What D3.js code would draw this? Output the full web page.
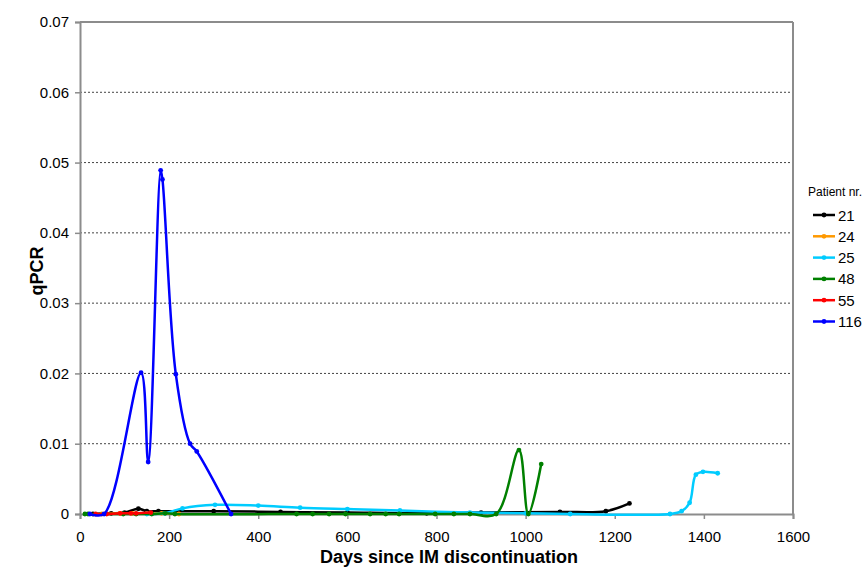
<!DOCTYPE html>
<html>
<head>
<meta charset="utf-8">
<script src="https://cdn.jsdelivr.net/npm/d3@7"></script>
<style>
  body { margin: 0; background: #fff; }
  text { font-family: "Liberation Sans", Arial, sans-serif; }
</style>
</head>
<body>
<div id="chart"></div>
<script>
// days since discontinuation, qPCR value
const patients = ["21", "24", "25", "48", "55", "116"];
const colors = ["#000000", "#ff9900", "#00ccff", "#008000", "#ff0000", "#0000ff"];

const p21 = [[29,0],[70,0.0001],[100,0.0002],[131,0.00075],[150,0.0004],[176,0.0004],[300,0.0004],
             [450,0.0003],[600,0.0002],[778,0.0001],[900,0.0002],[1077,0.0003],[1180,0.0004],[1233,0.0015]];
const p24 = [[49,0],[90,0.0001],[118,0.0001],[150,0.0001],[183,0.0001],[222,0]];
const p25 = [[150,0],[190,0.0001],[230,0.0008],[303,0.0013],[400,0.0012],[494,0.0009],[600,0.0007],
             [718,0.0005],[875,0.0002],[1000,0.0001],[1100,0],[1324,0],[1350,0.0004],[1368,0.0016],
             [1382,0.0056],[1398,0.006],[1431,0.0058]];
const p48 = [[11,0],[18,0],[97,0],[126,0],[161,0],[191,0.0001],[213,0],[486,0],[522,0],[559,0],[596,0],
             [651,0],[686,0],[716,0],[797,0],[839,0],[875,0],[934,0],[985,0.0091],[1006,0],[1035,0.0071]];
const p55 = [[35,0],[60,0],[90,0.0001],[114,0.0001],[126,0.0001],[159,0.0002]];
const p116 = [[22,0],[54,0],[137,0.0201],[153,0.0074],[181,0.0489],[185,0.0476],[215,0.0199],
              [247,0.0100],[262,0.0089],[339,0]];

const xTicks = [0, 200, 400, 600, 800, 1000, 1200, 1400, 1600];
const yTicks = [0, 0.01, 0.02, 0.03, 0.04, 0.05, 0.06, 0.07];

const series = [p21, p24, p25, p48, p55, p116];

const margin = {top: 22, right: 72, bottom: 54, left: 80},
      width = 865 - margin.left - margin.right,
      height = 568 - margin.top - margin.bottom;

const svg = d3.select("#chart")
    .append("svg")
    .attr("width", 865)
    .attr("height", 568);

const g = svg.append("g")
    .attr("transform", `translate(${margin.left},${margin.top})`);

const x = d3.scaleLinear().domain([0, 1600]).range([0, width]);
const y = d3.scaleLinear().domain([0, 0.07]).range([height, 0]);

// dotted gridlines
g.selectAll(".grid")
    .data(yTicks.filter(d => d > 0 && d < 0.07))
    .join("line")
    .attr("x1", 0).attr("x2", width)
    .attr("y1", d => y(d)).attr("y2", d => y(d))
    .attr("stroke", "#444")
    .attr("stroke-width", 1)
    .attr("stroke-dasharray", "2,2");

// frame top and right
g.append("line").attr("x1", 0).attr("x2", width).attr("y1", 0).attr("y2", 0)
    .attr("stroke", "#8c8c8c").attr("stroke-width", 2);
g.append("line").attr("x1", width).attr("x2", width).attr("y1", 0).attr("y2", height)
    .attr("stroke", "#8c8c8c").attr("stroke-width", 2);

const yAxis = g.append("g")
    .call(d3.axisLeft(y).tickValues(yTicks).tickSize(5).tickPadding(6)
        .tickFormat(d => d === 0 ? "0" : d3.format(".2f")(d)));

const xAxis = g.append("g")
    .attr("transform", `translate(0,${height})`)
    .call(d3.axisBottom(x).tickValues(xTicks).tickSize(5).tickPadding(12)
        .tickFormat(d3.format("d")));

[xAxis, yAxis].forEach(a => {
    a.select(".domain").attr("stroke", "#8c8c8c").attr("stroke-width", 2);
    a.selectAll(".tick line").attr("stroke", "#8c8c8c").attr("stroke-width", 1.5);
    a.selectAll("text")
        .style("font-size", "15px")
        .style("font-family", "'Liberation Sans', Arial, sans-serif")
        .attr("fill", "#000");
});

const line = d3.line()
    .x(d => x(d[0]))
    .y(d => y(d[1]))
    .curve(d3.curveCatmullRom.alpha(0.5));

series.forEach((s, i) => {
    g.append("path")
        .datum(s)
        .attr("fill", "none")
        .attr("stroke", colors[i])
        .attr("stroke-width", 2.5)
        .attr("d", line);
    g.selectAll(".m" + i)
        .data(s)
        .join("circle")
        .attr("class", "m" + i)
        .attr("cx", d => x(d[0]))
        .attr("cy", d => y(d[1]))
        .attr("r", 2.4)
        .attr("fill", colors[i]);
});

// axis titles
svg.append("text")
    .attr("transform", "translate(43,271) rotate(-90)")
    .attr("text-anchor", "middle")
    .style("font-size", "18px")
    .style("font-weight", "bold")
    .text("qPCR");

svg.append("text")
    .attr("x", 449)
    .attr("y", 563)
    .attr("text-anchor", "middle")
    .style("font-size", "18px")
    .style("font-weight", "bold")
    .text("Days since IM discontinuation");

// legend
const legend = svg.append("g").attr("transform", "translate(808,0)");
legend.append("text")
    .attr("x", 0).attr("y", 196)
    .style("font-size", "12px")
    .text("Patient nr.");

patients.forEach((p, i) => {
    const ly = 215 + i * 21.3;
    legend.append("line")
        .attr("x1", 5).attr("x2", 27)
        .attr("y1", ly).attr("y2", ly)
        .attr("stroke", colors[i]).attr("stroke-width", 2.5);
    legend.append("circle")
        .attr("cx", 16).attr("cy", ly).attr("r", 2.4)
        .attr("fill", colors[i]);
    legend.append("text")
        .attr("x", 30).attr("y", ly + 5.5)
        .style("font-size", "15px")
        .text(p);
});
</script>
</body>
</html>
